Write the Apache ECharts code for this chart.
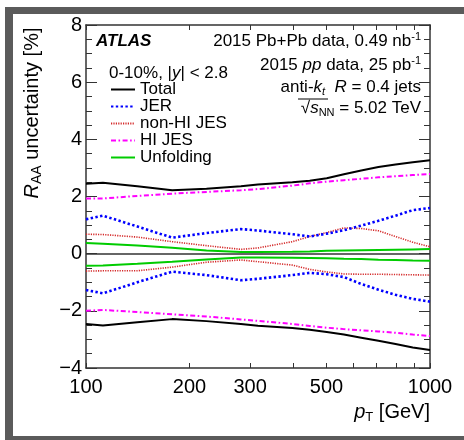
<!DOCTYPE html>
<html>
<head>
<meta charset="utf-8">
<script src="https://cdn.jsdelivr.net/npm/echarts@6/dist/echarts.min.js"></script>
<style>
  html, body { margin: 0; padding: 0; background: #fff; overflow: hidden; }
  #chart { width: 464px; height: 440px; }
</style>
</head>
<body>
<div id="chart"></div>
<script>
// Jet pT bin positions (GeV) at which the uncertainties are evaluated
const ptBins = [100, 112, 141, 178, 224, 282, 316, 398, 447, 501, 562, 631, 708, 794, 891, 1000];

// RAA systematic uncertainties [%], upper and lower envelopes
const totalUp      = [2.45, 2.48, 2.36, 2.22, 2.27, 2.36, 2.42, 2.50, 2.55, 2.64, 2.78, 2.91, 3.03, 3.12, 3.20, 3.27];
const totalDown    = [-2.46, -2.51, -2.40, -2.29, -2.36, -2.46, -2.52, -2.60, -2.66, -2.74, -2.83, -2.94, -3.05, -3.16, -3.28, -3.37];
const jerUp        = [1.20, 1.33, 0.95, 0.56, 0.72, 0.86, 0.81, 0.68, 0.60, 0.70, 0.82, 0.98, 1.15, 1.33, 1.52, 1.60];
const jerDown      = [-1.27, -1.39, -1.00, -0.63, -0.75, -0.93, -0.88, -0.75, -0.67, -0.72, -0.82, -1.06, -1.26, -1.44, -1.58, -1.68];
const nonHiJesUp   = [0.68, 0.67, 0.58, 0.42, 0.28, 0.15, 0.20, 0.42, 0.60, 0.74, 0.90, 0.88, 0.80, 0.60, 0.40, 0.24];
const nonHiJesDown = [-0.61, -0.60, -0.60, -0.47, -0.30, -0.22, -0.28, -0.40, -0.55, -0.64, -0.71, -0.72, -0.72, -0.73, -0.74, -0.75];
const hiJesUp      = [1.93, 1.93, 2.02, 2.10, 2.16, 2.22, 2.26, 2.38, 2.46, 2.52, 2.57, 2.62, 2.67, 2.71, 2.75, 2.79];
const hiJesDown    = [-2.00, -1.97, -2.04, -2.12, -2.20, -2.30, -2.35, -2.46, -2.53, -2.59, -2.64, -2.68, -2.72, -2.77, -2.83, -2.88];
const unfoldUp     = [0.37, 0.35, 0.29, 0.21, 0.11, 0.06, 0.06, 0.07, 0.08, 0.10, 0.11, 0.12, 0.13, 0.14, 0.15, 0.16];
const unfoldDown   = [-0.42, -0.41, -0.35, -0.28, -0.20, -0.13, -0.13, -0.14, -0.15, -0.16, -0.18, -0.19, -0.21, -0.22, -0.24, -0.25];

// Axis ticks and labels
const xTickValues  = [100, 200, 300, 400, 500, 600, 700, 800, 900, 1000];
const xLabelValues = [100, 200, 300, 500, 1000];
const yMin = -4, yMax = 8, yStep = 2;

const FONT = '"Liberation Sans", Arial, Helvetica, sans-serif';
const AXIS_COLOR = '#333333';
const FRAME_COLOR = '#5b5b5b';

const components = [
  { name: 'Total',      up: totalUp,    down: totalDown,    line: { color: '#000000', width: 2,   type: 'solid' } },
  { name: 'JER',        up: jerUp,      down: jerDown,      line: { color: '#0000ff', width: 2.6, type: [2.4, 2.4] } },
  { name: 'non-HI JES', up: nonHiJesUp, down: nonHiJesDown, line: { color: '#d42a2a', width: 1.6, type: [1.2, 1.2] } },
  { name: 'HI JES',     up: hiJesUp,    down: hiJesDown,    line: { color: '#ff00ff', width: 2,   type: [5, 2.5, 1.6, 2.5] } },
  { name: 'Unfolding',  up: unfoldUp,   down: unfoldDown,   line: { color: '#00cc00', width: 2,   type: 'solid' } }
];

function toPoints(values) {
  return ptBins.map((pt, i) => [pt, values[i]]);
}

const series = [];
components.forEach((c, idx) => {
  [c.up, c.down].forEach((vals, k) => {
    const s = {
      type: 'line',
      name: c.name,
      data: toPoints(vals),
      showSymbol: false,
      symbol: 'none',
      smooth: false,
      z: 10 - idx,
      lineStyle: { color: c.line.color, width: c.line.width, type: c.line.type, cap: 'butt' },
      itemStyle: { color: c.line.color },
      emphasis: { disabled: true }
    };
    if (idx === 0 && k === 0) {
      // zero reference line
      s.markLine = {
        silent: true,
        symbol: 'none',
        label: { show: false },
        lineStyle: { color: AXIS_COLOR, width: 1.5, type: 'solid' },
        data: [{ yAxis: 0 }]
      };
    }
    series.push(s);
  });
});

function xAxisDef(pos, labels) {
  return {
    type: 'log',
    logBase: 10,
    position: pos,
    min: 100,
    max: 1000,
    axisLine: { show: true, onZero: false, lineStyle: { color: AXIS_COLOR, width: 1.5 } },
    axisTick: { show: true, inside: true, length: 5, customValues: xTickValues, lineStyle: { color: AXIS_COLOR, width: 1 } },
    minorTick: { show: false },
    axisLabel: {
      show: labels,
      customValues: xLabelValues,
      fontSize: 20,
      fontFamily: FONT,
      color: '#000',
      margin: 9,
      formatter: v => String(Math.round(v))
    },
    splitLine: { show: false }
  };
}

function yAxisDef(pos, labels) {
  return {
    type: 'value',
    position: pos,
    min: yMin,
    max: yMax,
    interval: yStep,
    axisLine: { show: true, onZero: false, lineStyle: { color: AXIS_COLOR, width: 1.5 } },
    axisTick: { show: true, inside: true, length: 11, lineStyle: { color: AXIS_COLOR, width: 1 } },
    minorTick: { show: true, splitNumber: 4, length: 6, lineStyle: { color: AXIS_COLOR, width: 1 } },
    axisLabel: {
      show: labels,
      fontSize: 20,
      fontFamily: FONT,
      color: '#000',
      margin: 4,
      formatter: v => (v < 0 ? '\u2212' + (-v) : String(v))
    },
    splitLine: { show: false }
  };
}

const base = { fontFamily: FONT, fontSize: 17, color: '#000', lineHeight: 20 };
const richText = {
  n:   Object.assign({}, base),
  i:   Object.assign({}, base, { fontStyle: 'italic' }),
  sup: Object.assign({}, base, { fontSize: 11, lineHeight: 9, verticalAlign: 'top' }),
  sub: Object.assign({}, base, { fontSize: 11, lineHeight: 6, verticalAlign: 'bottom' }),
  isub: Object.assign({}, base, { fontSize: 11, lineHeight: 6, verticalAlign: 'bottom', fontStyle: 'italic' })
};

function label(x, y, text, align) {
  return {
    type: 'text',
    x: x, y: y,
    silent: true,
    style: { text: text, align: align, verticalAlign: 'middle', rich: richText, fontFamily: FONT, fontSize: 17, fill: '#000' }
  };
}

function frameBar(x, y, w, h) {
  return { type: 'rect', silent: true, z: 100, shape: { x: x, y: y, width: w, height: h }, style: { fill: FRAME_COLOR } };
}

const option = {
  animation: false,
  backgroundColor: '#ffffff',
  grid: { left: 86, top: 25, width: 344, height: 343, containLabel: false },
  xAxis: [xAxisDef('bottom', true), xAxisDef('top', false)],
  yAxis: [yAxisDef('left', true), yAxisDef('right', false)],
  legend: {
    orient: 'vertical',
    left: 110,
    top: 81,
    padding: 0,
    itemGap: 0,
    itemWidth: 24,
    itemHeight: 14,
    selectedMode: false,
    data: components.map(c => c.name),
    itemStyle: { opacity: 0 },
    textStyle: { fontFamily: FONT, fontSize: 17, color: '#000', lineHeight: 15.8 }
  },
  series: series,
  graphic: [
    // outer frame: top, left and bottom bars
    frameBar(5, 7, 459, 7),
    frameBar(5, 7, 8, 433),
    frameBar(5, 436, 459, 4),
    {
      type: 'text', x: 96, y: 41, silent: true,
      style: { text: 'ATLAS', fontFamily: FONT, fontSize: 17, fontWeight: 'bold', fontStyle: 'italic', fill: '#000', align: 'left', verticalAlign: 'middle' }
    },
    label(421, 41.5, '{n|2015 Pb+Pb data, 0.49 nb}{sup|-1}', 'right'),
    label(421, 65, '{n|2015 }{i|pp}{n| data, 25 pb}{sup|-1}', 'right'),
    label(421, 87.3, '{n|anti-}{i|k}{isub|t}{n|  }{i|R}{n| = 0.4 jets}', 'right'),
    label(421, 108.3, '{n|\u221A}{i|s}{sub|NN}{n| = 5.02 TeV}', 'right'),
    // radical overbar
    {
      type: 'line', silent: true,
      shape: { x1: 298, y1: 99, x2: 328, y2: 99 },
      style: { stroke: '#000', lineWidth: 1 }
    },
    label(109, 73.3, '{n|0-10%, |}{i|y}{n|| < 2.8}', 'left'),
    // y axis title
    {
      type: 'text', x: 32, y: 113, rotation: Math.PI / 2, silent: true,
      style: {
        text: '{i|R}{sub|AA}{n| uncertainty [%]}',
        align: 'center', verticalAlign: 'middle',
        rich: {
          n:   { fontFamily: FONT, fontSize: 20, lineHeight: 24, fill: '#000' },
          i:   { fontFamily: FONT, fontSize: 20, lineHeight: 24, fontStyle: 'italic', fill: '#000' },
          sub: { fontFamily: FONT, fontSize: 14, lineHeight: 4, verticalAlign: 'bottom', fill: '#000' }
        }
      }
    },
    // x axis title
    {
      type: 'text', x: 430, y: 412, silent: true,
      style: {
        text: '{i|p}{sub|T}{n| [GeV]}',
        align: 'right', verticalAlign: 'middle',
        rich: {
          n:   { fontFamily: FONT, fontSize: 20, lineHeight: 24, fill: '#000' },
          i:   { fontFamily: FONT, fontSize: 20, lineHeight: 24, fontStyle: 'italic', fill: '#000' },
          sub: { fontFamily: FONT, fontSize: 13, lineHeight: 4, verticalAlign: 'bottom', fill: '#000' }
        }
      }
    }
  ]
};

const chart = echarts.init(document.getElementById('chart'), null, { renderer: 'canvas' });
chart.setOption(option);
</script>
</body>
</html>
